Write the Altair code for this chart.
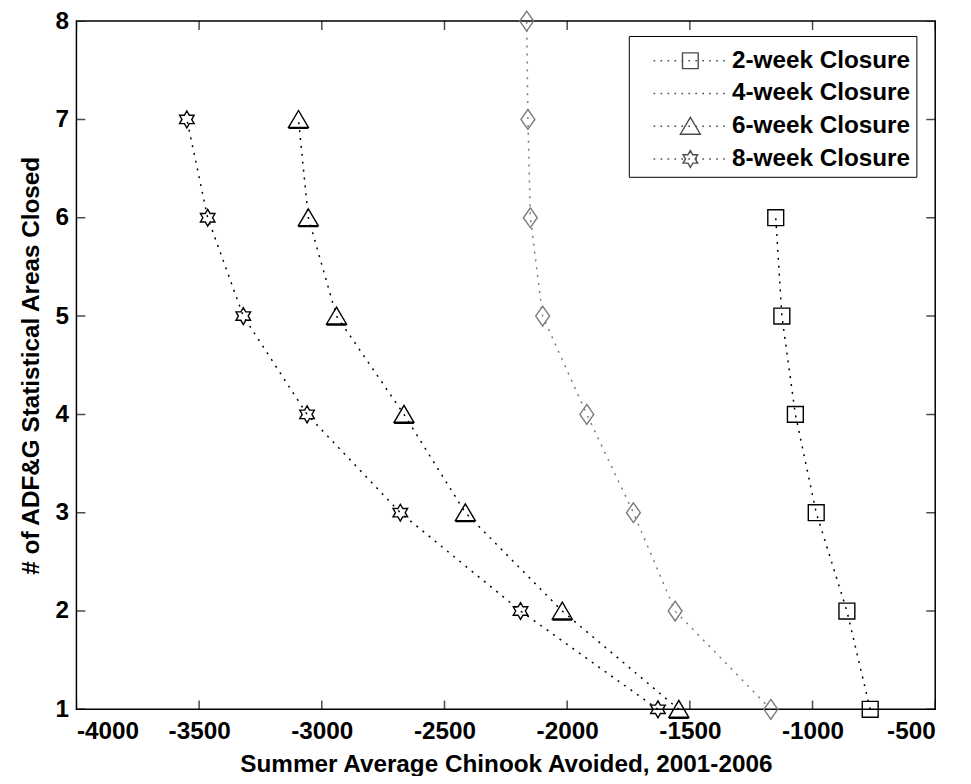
import altair as alt
import pandas as pd
import numpy as np

# ---------------- data ----------------
series_names = ["2-week Closure", "4-week Closure", "6-week Closure", "8-week Closure"]

areas_2wk = [1, 2, 3, 4, 5, 6]
chinook_2wk = [-765, -860, -985, -1070, -1125, -1150]

areas_4wk = [1, 2, 3, 4, 5, 6, 7, 8]
chinook_4wk = [-1170, -1560, -1730, -1920, -2100, -2150, -2160, -2165]

areas_6wk = [1, 2, 3, 4, 5, 6, 7]
chinook_6wk = [-1545, -2020, -2415, -2665, -2940, -3055, -3095]

areas_8wk = [1, 2, 3, 4, 5, 6, 7]
chinook_8wk = [-1630, -2190, -2680, -3060, -3320, -3465, -3550]

x_ticks = [-4000, -3500, -3000, -2500, -2000, -1500, -1000, -500]
y_ticks = [1, 2, 3, 4, 5, 6, 7, 8]

series_colors = ["#000000", "#7a7a7a", "#000000", "#000000"]

rows = []
for name, xs, ys in zip(series_names,
                        [chinook_2wk, chinook_4wk, chinook_6wk, chinook_8wk],
                        [areas_2wk, areas_4wk, areas_6wk, areas_8wk]):
    for xv, yv in zip(xs, ys):
        rows.append({"series": name, "chinook": xv, "areas": yv})
df = pd.DataFrame(rows)

xtick_df = pd.DataFrame({"chinook": x_ticks})
ytick_df = pd.DataFrame({"areas": y_ticks})


# ---------------- marker shapes ----------------
def hexagram(r, cx=0.0):
    pts = []
    for k in range(12):
        ang = np.deg2rad(-90 + 30 * k)
        rr = r if k % 2 == 0 else r / np.sqrt(3)
        pts.append((cx + rr * np.cos(ang), rr * np.sin(ang)))
    return "M" + "L".join(f"{px:.3f},{py:.3f}" for px, py in pts) + "Z"


def dotted(x0, x1, step=0.39, length=0.09):
    return "".join(f"M{xx:.3f},0H{xx + length:.3f}" for xx in np.arange(x0, x1, step))


data_shapes = [
    "M-0.8,-0.8H0.8V0.8H-0.8Z",
    "M0,-1L0.7,0L0,1L-0.7,0Z",
    "M0,-0.9L1,0.8L-1,0.8Z M-1,0.9H1",
    hexagram(0.85),
]

cx = 2.06
stub = dotted(0.0, 4.17)
legend_shapes = [
    stub + f"M{cx-0.44:.2f},-0.44H{cx+0.44:.2f}V0.44H{cx-0.44:.2f}Z",
    stub,
    stub + f"M{cx:.2f},-0.5L{cx+0.56:.2f},0.45L{cx-0.56:.2f},0.45Z",
    stub + hexagram(0.47, cx),
]

FONT = "Liberation Sans"
FS = 24.5

x_scale = alt.Scale(domain=[-4000, -500], nice=False, zero=False)
y_scale = alt.Scale(domain=[1, 8], nice=False, zero=False)
color_scale = alt.Scale(domain=series_names, range=series_colors)

x_axis = alt.Axis(values=x_ticks, labelExpr="datum.value + ''", ticks=False, domain=False,
                  grid=False, labelPadding=10, titlePadding=10, orient="bottom",
                  title="Summer Average Chinook Avoided, 2001-2006")
y_axis = alt.Axis(values=y_ticks, ticks=False, domain=False, grid=False, labelPadding=8,
                  titlePadding=12, orient="left",
                  title="# of ADF&G Statistical Areas Closed")

base = alt.Chart(df)

lines = base.mark_line(strokeDash=[2, 6], strokeWidth=1.5).encode(
    x=alt.X("chinook:Q", scale=x_scale, axis=x_axis),
    y=alt.Y("areas:Q", scale=y_scale, axis=y_axis),
    color=alt.Color("series:N", scale=color_scale, legend=None),
    detail="series:N",
    order=alt.Order("areas:Q"),
)

points = base.mark_point(filled=False, size=400, strokeWidth=1.4, opacity=1).encode(
    x=alt.X("chinook:Q", scale=x_scale, axis=x_axis),
    y=alt.Y("areas:Q", scale=y_scale, axis=y_axis),
    color=alt.Color("series:N", scale=color_scale, legend=None),
    shape=alt.Shape("series:N", scale=alt.Scale(domain=series_names, range=data_shapes), legend=None),
)

legend_layer = base.transform_calculate(
    chinook_off="datum.chinook + 100000"
).mark_point(filled=False, clip=True, color="black", strokeWidth=1.4).encode(
    x=alt.X("chinook_off:Q", scale=x_scale, axis=x_axis),
    y=alt.Y("areas:Q", scale=y_scale, axis=y_axis),
    shape=alt.Shape(
        "series:N",
        scale=alt.Scale(domain=series_names, range=legend_shapes),
        legend=alt.Legend(
            title=None, orient="none", legendX=557, legendY=15,
            fillColor="white", strokeColor="black", padding=6,
            symbolSize=1296, symbolStrokeWidth=1.4, symbolStrokeColor="black",
            rowPadding=2, labelOffset=60, labelFontSize=FS, labelFont=FONT,
            labelFontWeight="bold", labelColor="black", labelLimit=400,
        ),
    ),
)

# inward tick marks (half of each tick is clipped away by the frame)
xticks_bottom = alt.Chart(xtick_df).mark_tick(orient="vertical", size=18, thickness=1.5,
                                              color="black", clip=True).encode(
    x=alt.X("chinook:Q", scale=x_scale, axis=x_axis),
    y=alt.Y(datum=1, scale=y_scale, axis=y_axis),
)
xticks_top = alt.Chart(xtick_df).mark_tick(orient="vertical", size=18, thickness=1.5,
                                           color="black", clip=True).encode(
    x=alt.X("chinook:Q", scale=x_scale, axis=x_axis),
    y=alt.Y(datum=8, scale=y_scale, axis=y_axis),
)
yticks_left = alt.Chart(ytick_df).mark_tick(orient="horizontal", size=18, thickness=1.5,
                                            color="black", clip=True).encode(
    y=alt.Y("areas:Q", scale=y_scale, axis=y_axis),
    x=alt.X(datum=-4000, scale=x_scale, axis=x_axis),
)
yticks_right = alt.Chart(ytick_df).mark_tick(orient="horizontal", size=18, thickness=1.5,
                                             color="black", clip=True).encode(
    y=alt.Y("areas:Q", scale=y_scale, axis=y_axis),
    x=alt.X(datum=-500, scale=x_scale, axis=x_axis),
)

chart = alt.layer(
    lines, points, xticks_bottom, xticks_top, yticks_left, yticks_right, legend_layer
).resolve_scale(
    shape="independent"
).properties(
    width=866, height=694,
    autosize=alt.AutoSizeParams(type="none"),
    padding={"left": 69, "top": 10, "right": 28, "bottom": 64},
).configure_view(
    stroke="black", strokeWidth=1.5
).configure_axis(
    labelFont=FONT, titleFont=FONT, labelFontSize=FS, titleFontSize=FS,
    labelFontWeight="bold", titleFontWeight="bold",
    labelColor="black", titleColor="black",
)

chart.save("out.html", embed_options={"renderer": "svg", "actions": False})
